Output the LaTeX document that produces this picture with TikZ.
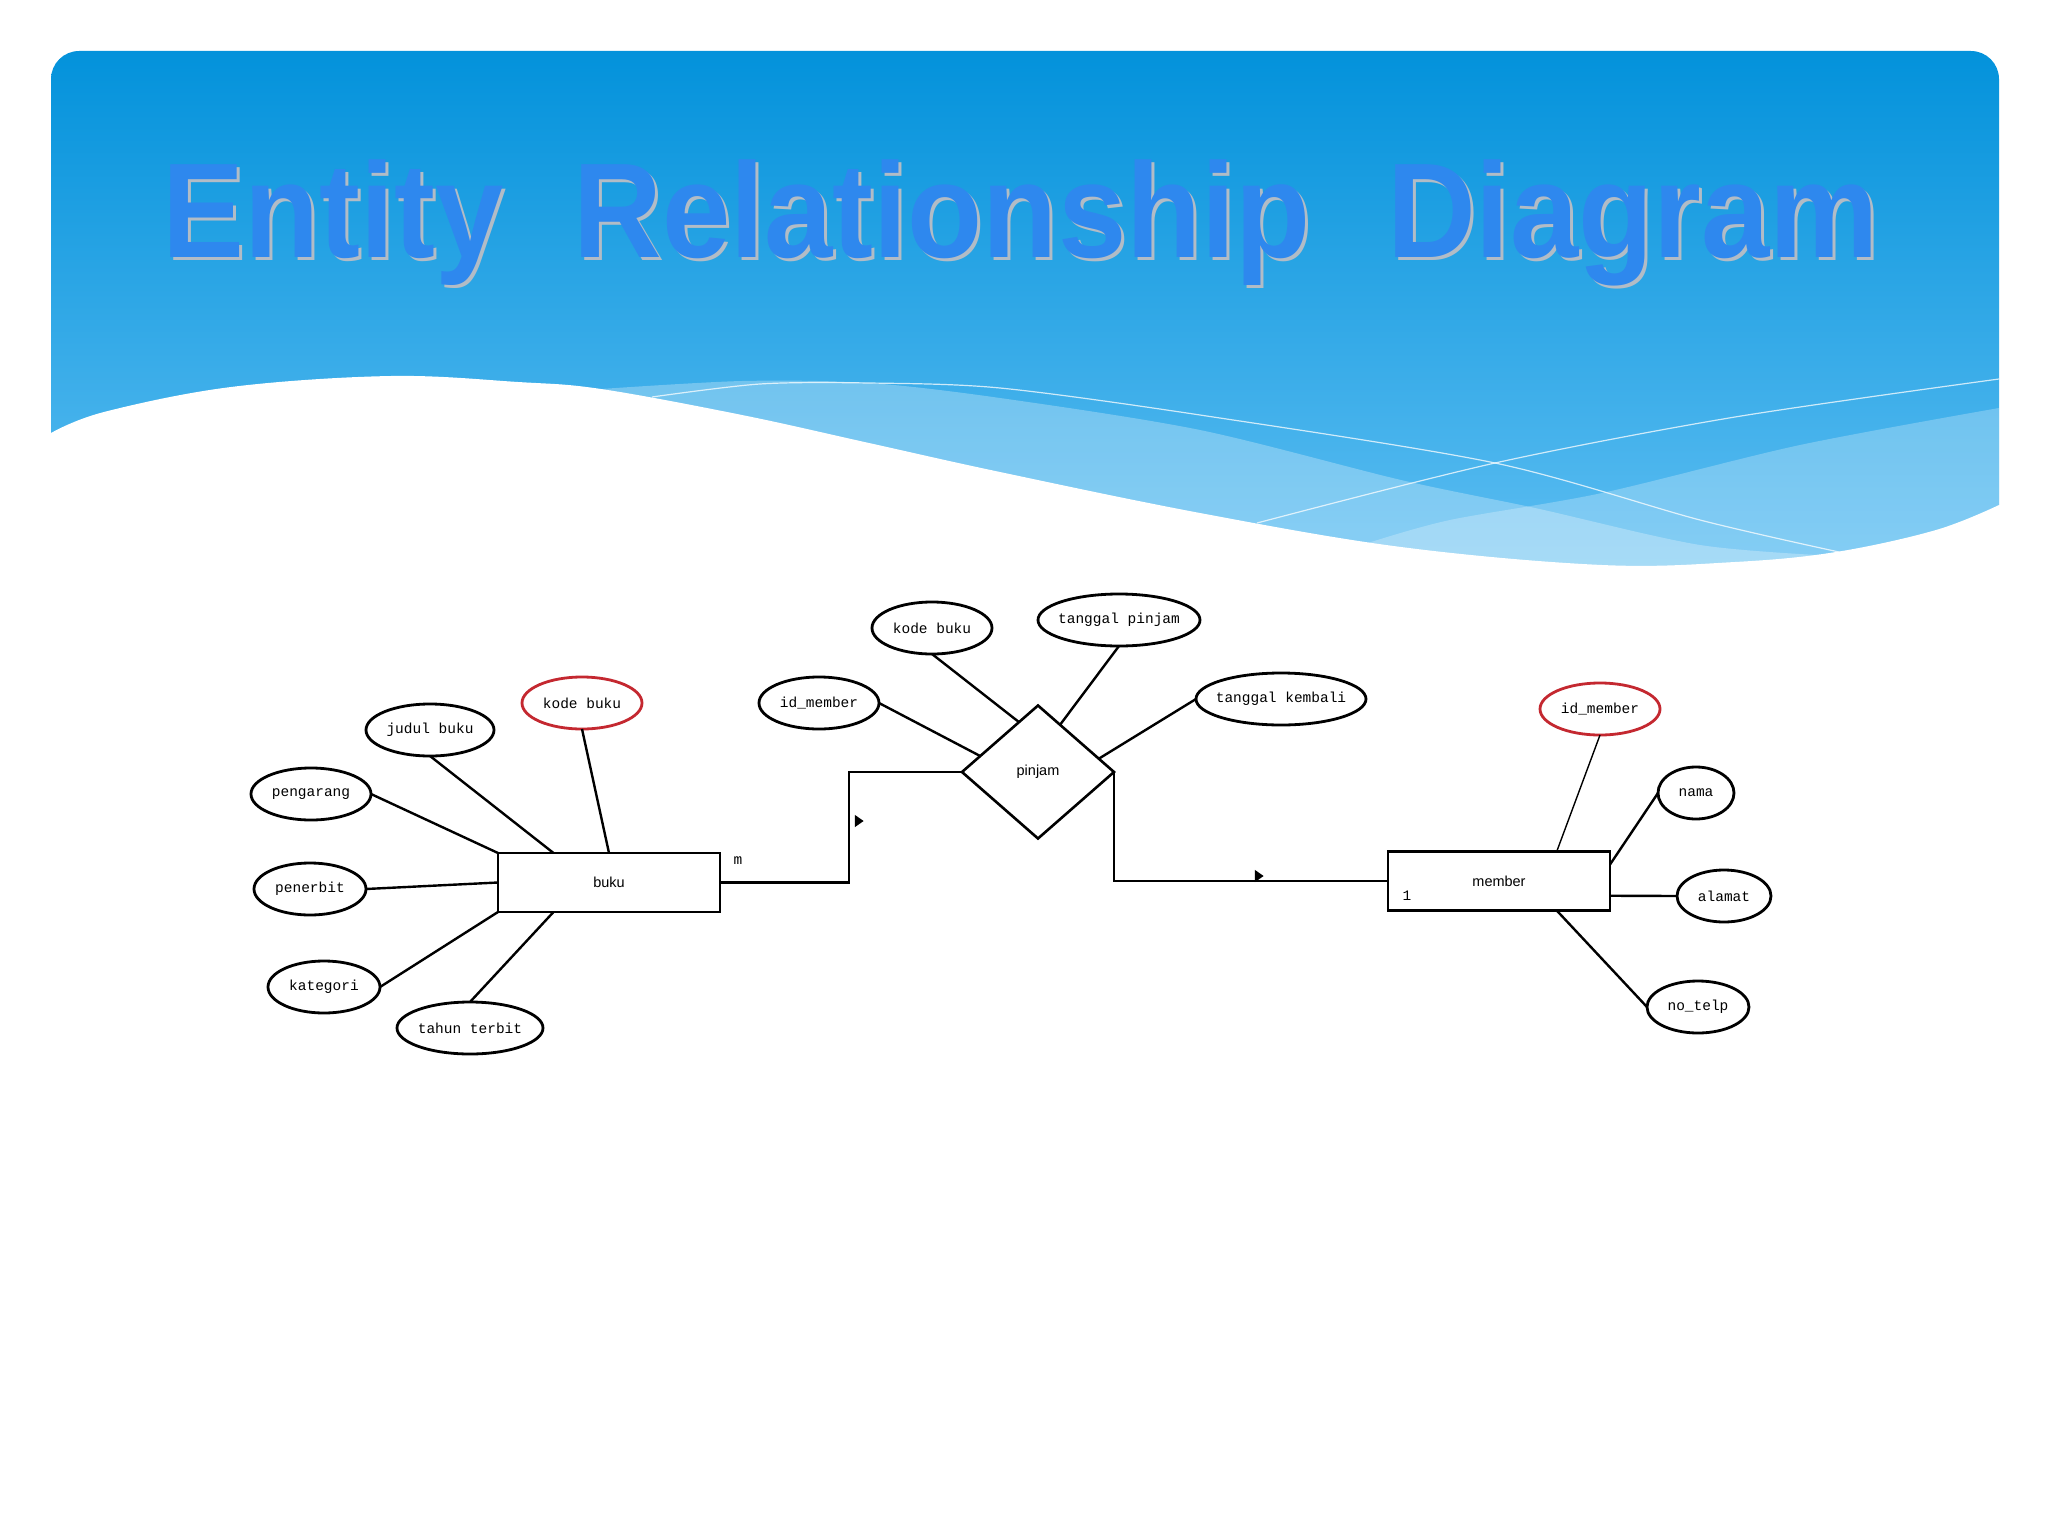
\documentclass[tikz,border=0pt]{standalone}
\usepackage{fontspec}
\usepackage{graphicx}
\setmainfont{Liberation Sans}
\newfontfamily\attrfont{Liberation Mono}
\usetikzlibrary{shapes.geometric,calc}
\newcommand\attrtext[1]{\makebox[0pt]{#1}}
\newcommand\titlew[1]{\scalebox{0.91}[1]{#1}}
\definecolor{titleblue}{RGB}{46,136,238}
\definecolor{titleshadow}{RGB}{178,188,198}
\definecolor{keyred}{RGB}{196,40,48}
\definecolor{hdrtop}{RGB}{3,146,219}
\definecolor{hdrbot}{RGB}{98,192,243}
\begin{document}
\begin{tikzpicture}[x=0.25mm,y=-0.25mm,
  attr/.style={ellipse, draw=black, fill=white, line width=0.7mm, inner sep=0pt, outer sep=0pt, minimum height=13mm, font={\attrfont\fontsize{10.3pt}{12pt}\selectfont}},
  keyattr/.style={attr, draw=keyred},
  ent/.style={rectangle, draw=black, fill=white, line width=0.65mm, minimum width=55.5mm, minimum height=14.75mm, inner sep=0pt, outer sep=0pt, font={\fontsize{10.3pt}{12pt}\selectfont}},
  rel/.style={diamond, draw=black, fill=white, line width=0.65mm, minimum width=38mm, minimum height=33.25mm, inner sep=0pt, outer sep=0pt, font={\fontsize{10.3pt}{12pt}\selectfont}},
  conn/.style={line width=0.6mm, draw=black},
  thinconn/.style={line width=0.35mm, draw=black},
  card/.style={inner sep=0pt, font={\attrfont\fontsize{10.3pt}{12pt}\selectfont}},
  marker/.style={isosceles triangle, isosceles triangle apex angle=70, fill=black, inner sep=0pt, outer sep=0pt, minimum size=2.2mm},
  titletext/.style={anchor=base, inner sep=0pt, font={\fontsize{96pt}{100pt}\selectfont\bfseries}}
]
\useasboundingbox (0,0) rectangle (2048,1536);
% background
\fill[white] (0,0) rectangle (2048,1536);
\path[top color=hdrtop, bottom color=hdrbot, rounded corners=20] (51,600) -- (51,51) -- (1999,51) -- (1999,600) -- cycle;
% light bands
\fill[white, opacity=0.28] plot[smooth] coordinates {(601,389) (742,381) (869,383) (1000,398) (1200,430) (1401,480) (1535,508) (1700,545) (1836,556)} -- (1836,640) -- (601,640) -- cycle;
\fill[white, opacity=0.25] plot[smooth] coordinates {(1368,543) (1450,520) (1602,493) (1800,445) (1999,408)} -- (1999,640) -- (1368,640) -- cycle;
% thin white lines
\draw[white, opacity=0.75, line width=0.3mm] plot[smooth] coordinates {(652,397) (760,384) (869,383) (1000,388) (1200,415) (1495,463) (1700,520) (1839,552)};
\draw[white, opacity=0.75, line width=0.3mm] plot[smooth] coordinates {(1257,523) (1495,463) (1735,417) (1999,379)};
% white wave
\fill[white] plot[smooth, tension=0.6] coordinates {(51,433) (104,412) (231,387) (391,376) (518,382) (601,389) (742,415) (869,443) (1000,472) (1200,513) (1401,547) (1602,565) (1735,562) (1836,552) (1936,530) (1999,505)} -- (2010,505) -- (2010,650) -- (40,650) -- (40,433) -- cycle;

% title
\node[titletext, text=titleshadow] (s1) at (336,260) {\titlew{Entity}};
\node[titletext, text=titleshadow] (s2) at (945,260) {\titlew{Relationship}};
\node[titletext, text=titleshadow] (s3) at (1636,260) {\titlew{Diagram}};
\node[titletext, text=titleblue] (t1) at (333,257) {\titlew{Entity}};
\node[titletext, text=titleblue] (t2) at (942,257) {\titlew{Relationship}};
\node[titletext, text=titleblue] (t3) at (1633,257) {\titlew{Diagram}};

% entities and relationship
\node[ent] (buku) at (609,882.5) {\attrtext{buku}};
\node[ent] (member) at (1499,881) {\attrtext{member}};
\node[rel] (pinjam) at (1038,772) {\attrtext{pinjam}};

% buku attributes
\node[keyattr, minimum width=30mm] (kb1) at (582,703) {\attrtext{kode buku}};
\node[attr, minimum width=32mm] (jb) at (430,730) {\attrtext{judul buku}};
\node[attr, minimum width=30mm] (pg) at (311,794) {\attrtext{pengarang}};
\node[attr, minimum width=28mm] (pn) at (310,889) {\attrtext{penerbit}};
\node[attr, minimum width=28mm] (kt) at (324,987) {\attrtext{kategori}};
\node[attr, minimum width=36.5mm] (tt) at (470,1028) {\attrtext{tahun terbit}};

% pinjam attributes
\node[attr, minimum width=30mm] (idm1) at (819,703) {\attrtext{id\_member}};
\node[attr, minimum width=30mm] (kb2) at (932,628) {\attrtext{kode buku}};
\node[attr, minimum width=40.5mm] (tp) at (1119,620) {\attrtext{tanggal pinjam}};
\node[attr, minimum width=42.5mm] (tk) at (1281,699) {\attrtext{tanggal kembali}};

% member attributes
\node[keyattr, minimum width=30mm] (idm2) at (1600,709) {\attrtext{id\_member}};
\node[attr, minimum width=19mm] (nama) at (1696,793) {\attrtext{nama}};
\node[attr, minimum width=23.5mm] (alamat) at (1724,896) {\attrtext{alamat}};
\node[attr, minimum width=25.5mm] (notelp) at (1698,1007) {\attrtext{no\_telp}};

% cardinality labels and markers
\node[card] (cm) at (738,861) {m};
\node[card] (c1) at (1407,896) {1};
\node[marker] (m1) at (858,821) {};
\node[marker] (m2) at (1258,876) {};

% connectors buku
\draw[conn] (kb1.south) -- (buku.north);
\draw[conn] (jb.south) -- ($(buku.north west)!0.25!(buku.north east)$);
\draw[conn] (pg.east) -- (buku.north west);
\draw[conn] (pn.east) -- (buku.west);
\draw[conn] (kt.east) -- (buku.south west);
\draw[conn] (tt.north) -- ($(buku.south west)!0.25!(buku.south east)$);

% connectors pinjam
\draw[conn] (idm1.east) -- ($(pinjam.west)!0.24!(pinjam.north)$);
\draw[conn] (kb2.south) -- ($(pinjam.north)!0.25!(pinjam.west)$);
\draw[conn] (tp.south) -- ($(pinjam.north)!0.29!(pinjam.east)$);
\draw[conn] (tk.west) -- ($(pinjam.east)!0.2!(pinjam.north)$);

% connectors member
\draw[thinconn] (idm2.south) -- ($(member.north west)!0.76!(member.north east)$);
\draw[conn] (nama.west) -- ($(member.north east)!0.22!(member.south east)$);
\draw[conn] (alamat.west) -- ($(member.north east)!0.75!(member.south east)$);
\draw[conn] (notelp.west) -- ($(member.south west)!0.76!(member.south east)$);

% relationship connectors
\draw[conn] (buku.east) -- ++(129,0) |- (pinjam.west);
\draw[conn] (pinjam.east) |- (member.west);
\end{tikzpicture}
\end{document}
